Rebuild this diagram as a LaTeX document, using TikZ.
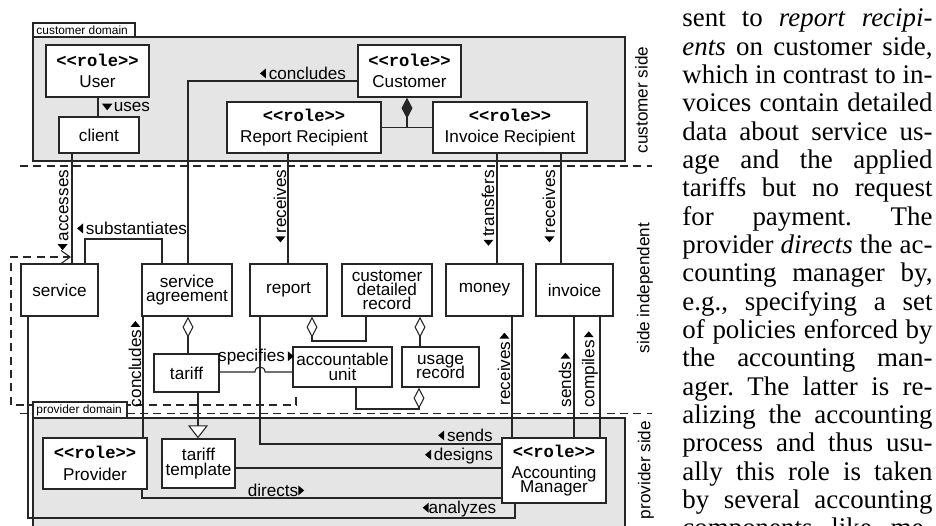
\documentclass[tikz,border=0pt]{standalone}
\usepackage{fontspec}
\setmainfont{Liberation Serif}
\newfontfamily\dsans{Liberation Sans}
\newfontfamily\dmono{Liberation Mono}
\usetikzlibrary{arrows.meta,fit}

% fonts of the diagram
\newcommand\dfont{\dsans\fontsize{7.2}{6.0}\selectfont\lineskiplimit=-5pt\relax}
\newcommand\rolehdr{{\dmono\bfseries <{}<role>{}>}}
% centred lines of a box, separated by \cr
\newcommand\bt[1]{\vbox{\halign{\hfil##\hfil\cr#1\crcr}}}
\newcommand\rolegap{\noalign{\kern3pt}}
% small reading-direction triangles
\newcommand\arrL{\tikz[baseline=0pt]\fill (0pt,2.4pt)--(2.5pt,4.5pt)--(2.5pt,0.3pt)--cycle;}
\newcommand\arrR{\tikz[baseline=0pt]\fill (2.5pt,2.4pt)--(0pt,4.5pt)--(0pt,0.3pt)--cycle;}
\newcommand\arrD{\tikz[baseline=0pt]\fill (2.2pt,0.5pt)--(0pt,3.3pt)--(4.4pt,3.3pt)--cycle;}
% one justified line of the text column
\newcommand\jl[1]{\hbox to 105pt{#1}}

\tikzset{
  ln/.style={draw=black!85, line width=0.45pt},
  box/.style={draw=black!85, line width=0.55pt, fill=white, inner sep=0pt},
  boxtxt/.style={font=\dfont, inner sep=0pt},
  domainbox/.style={draw=black!85, line width=0.55pt, fill=gray!20, inner sep=0pt},
  tabbox/.style={draw=black!85, line width=0.5pt, fill=white, inner sep=0pt},
  tabtext/.style={font=\dsans\fontsize{5}{6}\selectfont, inner sep=0pt, anchor=west},
  lbl/.style={font=\dsans\fontsize{7.2}{8}\selectfont, inner sep=0pt},
  vlbl/.style={lbl, rotate=90},
  sepline/.style={draw=black!85, line width=0.45pt, dash pattern=on 3.4pt off 2.2pt},
  dep/.style={draw=black!85, line width=0.45pt, dash pattern=on 3.4pt off 2.2pt, -{Straight Barb[length=3.8pt,width=5.5pt]}},
  agg/.style={{Diamond[fill=white,length=8.8pt,width=4.6pt]}-},
  comp/.style={{Diamond[length=8.8pt,width=4.6pt]}-},
  gen/.style={-{Triangle[fill=white,length=5.5pt,width=8.4pt]}},
}

\begin{document}
\begin{tikzpicture}[x=0.42pt,y=-0.42pt]
\useasboundingbox (0,0) rectangle (936,525);
\clip (0,0) rectangle (936,525);

% side separators
\coordinate (sepAl) at (20,166);   \coordinate (sepAr) at (652,166);
\coordinate (sepBl) at (20,413.5); \coordinate (sepBr) at (652,413.5);
\draw[sepline] (sepAl) -- (sepAr);
\draw[sepline] (sepBl) -- (sepBr);

% dashed dependency onto the "accesses" association
\coordinate (depA) at (296,397);
\coordinate (depB) at (71,257);
\draw[dep] (depA) -- (296,405) -- (11,405) -- (11,257) -- (depB);

% domains
\node[domainbox, fit={(33,37) (625,161)}] (custdom) {};
\node[tabbox, fit={(33,23) (135,37)}] (custtab) {};
\node[tabtext] (custtabtxt) at (36,30.5) {customer domain};
\node[domainbox, fit={(33,418) (625,560)}] (provdom) {};
\node[tabbox, fit={(33,402) (127,418)}] (provtab) {};
\node[tabtext] (provtabtxt) at (36,410.5) {provider domain};

% classes and roles
\node[box, fit={(46,45) (149,97)}] (user) {};
\node[box, fit={(59,117) (139,153)}] (client) {};
\node[box, fit={(358,45) (461,97)}] (customer) {};
\node[box, fit={(227,102) (381,153)}] (rr) {};
\node[box, fit={(433,102) (587,153)}] (ir) {};
\node[box, fit={(21,264) (98,316)}] (service) {};
\node[box, fit={(142,264) (232,316)}] (sa) {};
\node[box, fit={(250,264) (327,316)}] (report) {};
\node[box, fit={(342,264) (432,316)}] (cdr) {};
\node[box, fit={(446,264) (523,316)}] (money) {};
\node[box, fit={(536,264) (613,316)}] (invoice) {};
\node[box, fit={(154,354) (219,392)}] (tariff) {};
\node[box, fit={(293,347) (392,387)}] (au) {};
\node[box, fit={(402,347) (479,387)}] (ur) {};
\node[box, fit={(43,438) (147,489)}] (provider) {};
\node[box, fit={(162,439) (235,488)}] (tmpl) {};
\node[box, fit={(502,438) (606,503)}] (am) {};

\node[boxtxt] (userT) at (user.center) {\bt{\rolehdr\cr\rolegap User}};
\node[boxtxt] (clientT) at (client.center) {\bt{client}};
\node[boxtxt] (customerT) at (customer.center) {\bt{\rolehdr\cr\rolegap Customer}};
\node[boxtxt] (rrT) at (rr.center) {\bt{\rolehdr\cr\rolegap Report Recipient}};
\node[boxtxt] (irT) at (ir.center) {\bt{\rolehdr\cr\rolegap Invoice Recipient}};
\node[boxtxt] (serviceT) at (service.center) {\bt{service}};
\node[boxtxt] (saT) at (sa.center) {\bt{service\cr agreement}};
\node[boxtxt] (reportT) at (report.center) {\bt{report}};
\node[boxtxt] (cdrT) at (cdr.center) {\bt{customer\cr detailed\cr record}};
\node[boxtxt] (moneyT) at (money.center) {\bt{money}};
\node[boxtxt] (invoiceT) at (invoice.center) {\bt{invoice}};
\node[boxtxt] (tariffT) at (tariff.center) {\bt{tariff}};
\node[boxtxt] (auT) at (au.center) {\bt{accountable\cr unit}};
\node[boxtxt] (urT) at (ur.center) {\bt{usage\cr record}};
\node[boxtxt] (providerT) at (provider.center) {\bt{\rolehdr\cr\rolegap Provider}};
\node[boxtxt] (tmplT) at (tmpl.center) {\bt{tariff\cr template}};
\node[boxtxt] (amT) at (am.center) {\bt{\rolehdr\cr\rolegap Accounting\cr Manager}};

% connectors
\draw[ln] (98,0|-user.south) -- (98,0|-client.north);
\draw[ln] (customer.west|-0,81) -- (188,81) -- (188,0|-sa.north);
\draw[ln, comp] (407,0|-customer.south) -- (407,128);
\draw[ln] (rr.east) -- (ir.west);
\draw[ln] (72,0|-client.south) -- (72,0|-service.north);
\draw[ln] (85,0|-service.north) -- (85,239) -- (162,239) -- (162,0|-sa.north);
\draw[ln] (288,0|-rr.south) -- (288,0|-report.north);
\draw[ln] (497,0|-ir.south) -- (497,0|-money.north);
\draw[ln] (561,0|-ir.south) -- (561,0|-invoice.north);
\draw[ln, agg] (188,0|-sa.south) -- (188,0|-tariff.north);
\draw[ln] (tariff.east|-0,372) -- (255,372) .. controls (255,365.3) and (265,365.3) .. (265,372) -- (au.west|-0,372);
\draw[ln] (143,0|-sa.south) -- (143,0|-provider.north);
\draw[ln] (260,0|-report.south) -- (260,444) -- (am.west|-0,444);
\draw[ln, agg] (312,0|-report.south) -- (312,341) -- (366,341) -- (366,0|-cdr.south);
\draw[ln, agg] (420,0|-cdr.south) -- (420,0|-ur.north);
\draw[ln, agg] (419,0|-ur.south) -- (419,409) -- (356,409) -- (356,0|-au.south);
\draw[ln] (512,0|-money.south) -- (512,0|-am.north);
\draw[ln] (574,0|-invoice.south) -- (574,0|-am.north);
\draw[ln] (600,0|-invoice.south) -- (600,0|-am.north);
\draw[ln, gen] (198,0|-tariff.south) -- (198,0|-tmpl.north);
\draw[ln] (tmpl.east|-0,468) -- (am.west|-0,468);
\draw[ln] (142,0|-provider.south) -- (142,498) -- (am.west|-0,498);
\draw[ln] (28,0|-service.south) -- (28,518) -- (515,518) -- (515,0|-am.south);

% association names
\node[lbl] (lUses) at (126,107) {\arrD\kern0.6pt uses};
\node[lbl] (lConclA) at (303,73) {\arrL\,concludes};
\node[vlbl] (lAccess) at (63,210) {\arrL\,accesses};
\node[lbl] (lSubst) at (132,228) {\arrL\,substantiates};
\node[vlbl] (lRecRep) at (280,206) {\arrL\,receives};
\node[lbl] (lSpec) at (256,357.5) {specifies\,\arrR};
\node[vlbl] (lConclB) at (135,364) {concludes\,\arrR};
\node[vlbl] (lTransf) at (488,208) {\arrL\,transfers};
\node[vlbl] (lRecInv) at (549,206) {\arrL\,receives};
\node[vlbl] (lRecMon) at (504,369) {receives\,\arrR};
\node[vlbl] (lSendInv) at (565,380) {sends\,\arrR};
\node[vlbl] (lCompiles) at (590,369.5) {compiles\,\arrR};
\node[lbl] (lSends) at (465.5,435) {\arrL\,sends};
\node[lbl] (lDesigns) at (459,456) {\arrL\,designs};
\node[lbl] (lDirects) at (276,490) {directs\arrR};
\node[lbl] (lAnalyzes) at (459.5,509) {\arrL analyzes};

% side names
\node[vlbl] (sCust) at (641.5,100) {customer side};
\node[vlbl] (sIndep) at (645,288) {side independent};
\node[vlbl] (sProv) at (646,470) {provider side};

% running text column
\node[anchor=base west, inner sep=0pt, font=\fontsize{11.3}{11.9}\selectfont] (para) at (682,26.7) {\vtop{\hsize=105pt\parindent=0pt\baselineskip=11.9pt\lineskiplimit=-5pt
\jl{sent\hfil to\hfil \textit{report}\hfil \textit{recipi-}}
\jl{\textit{ents}\hfil on\hfil customer\hfil side,}
\jl{which\hfil in\hfil contrast\hfil to\hfil in-}
\jl{voices\hfil contain\hfil detailed}
\jl{data\hfil about\hfil service\hfil us-}
\jl{age\hfil and\hfil the\hfil applied}
\jl{tariffs\hfil but\hfil no\hfil request}
\jl{for\hfil payment.\hfil The}
\jl{provider\hfil \textit{directs}\hfil the\hfil ac-}
\jl{counting\hfil manager\hfil by,}
\jl{e.g.,\hfil specifying\hfil a\hfil set}
\jl{of\hfil policies\hfil enforced\hfil by}
\jl{the\hfil accounting\hfil man-}
\jl{ager.\hfil The\hfil latter\hfil is\hfil re-}
\jl{alizing\hfil the\hfil accounting}
\jl{process\hfil and\hfil thus\hfil usu-}
\jl{ally\hfil this\hfil role\hfil is\hfil taken}
\jl{by\hfil several\hfil accounting}
\jl{components\hfil like\hfil me-}}};
\end{tikzpicture}
\end{document}
